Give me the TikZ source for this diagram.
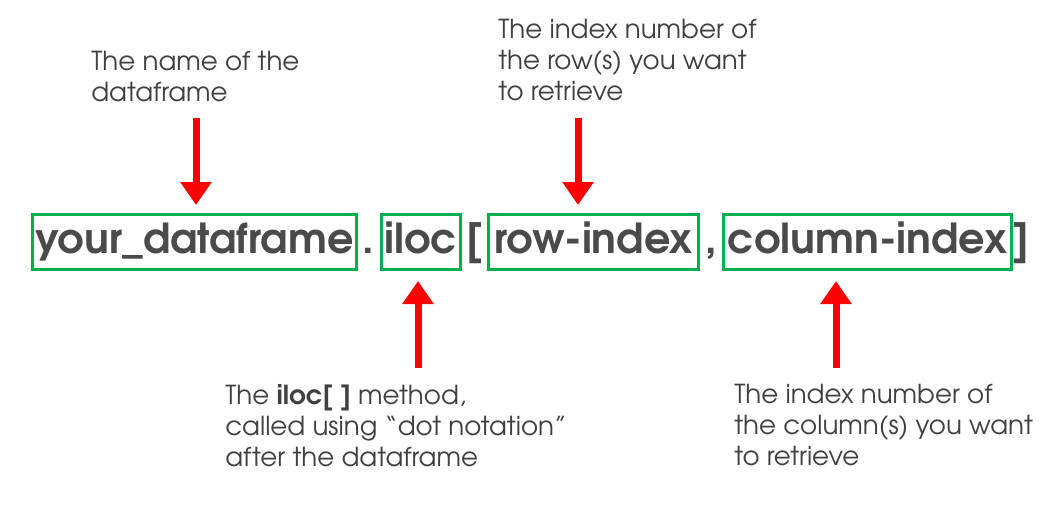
\documentclass[tikz,border=0pt]{standalone}
\usepackage{fontspec}
\setmainfont{texgyreadventor}[Extension=.otf, UprightFont=*-regular, BoldFont=*-bold, ItalicFont=*-italic, BoldItalicFont=*-bolditalic]
\usetikzlibrary{arrows.meta}
\definecolor{boxgreen}{HTML}{00B050}
\definecolor{maingray}{HTML}{4A4A4A}
\definecolor{notegray}{HTML}{404040}
\definecolor{arrred}{HTML}{FF0000}
\begin{document}
\begin{tikzpicture}[x=0.75pt,y=-0.75pt,
  codebox/.style={draw=boxgreen, line width=2.25pt, inner sep=0pt,
    minimum height=41.25pt, text height=22.5pt, text depth=6pt,
    font=\fontsize{31}{36}\selectfont\bfseries, text=maingray},
  punct/.style={font=\fontsize{31}{36}\selectfont\bfseries, text=maingray,
    anchor=base, inner sep=0pt},
  note/.style={font=\fontsize{19.6}{23.3}\selectfont, text=notegray,
    align=left, inner sep=0pt, anchor=north west},
  arr/.style={draw=arrred, line width=5.25pt,
    -{Triangle[width=22.5pt,length=17.25pt]}}
]
\useasboundingbox (0,0) rectangle (1063,515);
\fill[white] (0,0) rectangle (1063,515);

\node[codebox, minimum width=243pt] (df) at (194.5,242) {your\_dataframe};
\node[codebox, minimum width=59.25pt] (iloc) at (421,242) {iloc};
\node[codebox, minimum width=157.5pt] (row) at (593.5,242) {row-index};
\node[codebox, minimum width=216pt] (col) at (867.5,242) {column-index};

\node[punct] (dot) at (368,253) {.};
\node[punct] (lbr) at (475,253) {[};
\node[punct] (comma) at (711,253) {,};
\node[punct] (rbr) at (1021,253) {]};

\node[note] (n1) at (91,51) {The name of the\\dataframe};
\node[note] (n3) at (498,19) {The index number of\\the row(s) you want\\to retrieve};
\node[note] (n2) at (225,384) {The \textbf{iloc[ ]} method,\\called using ``dot notation''\\after the dataframe};
\node[note] (n4) at (734,384) {The index number of\\the column(s) you want\\to retrieve};

\coordinate (s1) at (196,118);
\coordinate (s3) at (578,118);
\coordinate (s2) at (418,368);
\coordinate (s4) at (836,368);

\draw[arr, shorten >=6pt] (s1) -- (s1 |- df.north);
\draw[arr, shorten >=6pt] (s3) -- (s3 |- row.north);
\draw[arr, shorten >=7.5pt] (s2) -- (s2 |- iloc.south);
\draw[arr, shorten >=7.5pt] (s4) -- (s4 |- col.south);
\end{tikzpicture}
\end{document}
